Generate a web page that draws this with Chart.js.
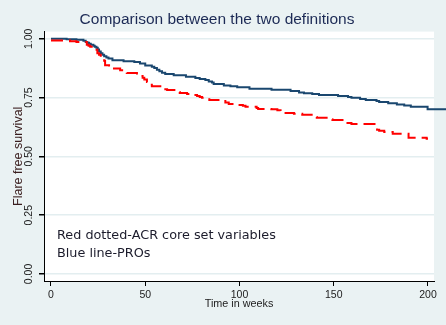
<!DOCTYPE html>
<html>
<head>
<meta charset="utf-8">
<title>Comparison between the two definitions</title>
<script src="https://cdn.jsdelivr.net/npm/chart.js@4.4.1/dist/chart.umd.min.js"></script>
<style>
  html, body { margin: 0; padding: 0; background: #eaf2f3; }
  canvas { display: block; }
</style>
</head>
<body>
<canvas id="myChart" width="446" height="325"></canvas>
<script>
// tick labels
const weekTicks = [0, 50, 100, 150, 200];
const survTicks = [0, 0.25, 0.5, 0.75, 1];

// Blue line - PROs (time of each drop, survival after the drop)
const blueWeeks = [0, 8.3, 13.5, 17.2, 18.4, 19.3, 20.2, 21.1, 22.5, 23.2, 24.1, 24.8, 25.5, 26.4, 27.3, 28.2,
  29.4, 30.5, 32.6, 38.5, 44.2, 47.2, 50.0, 53.5, 54.8, 56.2, 57.5, 58.9, 60.6, 65.1, 71.6, 76.6, 78.9,
  81.9, 83.7, 85.4, 86.3, 91.7, 95.2, 98.8, 105.3, 117.0, 127.1, 131.6, 134.2, 138.6, 142.2, 152.3,
  157.6, 159.4, 164.0, 167.0, 172.7, 174.1, 178.9, 183.5, 187.4, 190.9, 199.8, 211];
const blueSurv = [1.0, 0.998, 0.996, 0.992, 0.987, 0.983, 0.979, 0.975, 0.970, 0.966, 0.962, 0.955, 0.946, 0.939, 0.932, 0.926,
  0.921, 0.916, 0.909, 0.905, 0.901, 0.895, 0.887, 0.881, 0.876, 0.869, 0.862, 0.856, 0.850, 0.845, 0.839, 0.833, 0.829,
  0.825, 0.818, 0.814, 0.808, 0.802, 0.798, 0.794, 0.788, 0.783, 0.778, 0.772, 0.769, 0.765, 0.761, 0.757,
  0.753, 0.749, 0.744, 0.740, 0.736, 0.731, 0.726, 0.721, 0.716, 0.711, 0.701, 0.701];

// Red dotted - ACR core set variables
const redWeeks = [0, 10.1, 13.5, 19.0, 19.9, 20.8, 21.6, 22.5, 23.2, 24.6, 25.5, 26.4, 27.3, 28.2, 28.7, 30.8,
  32.6, 36.7, 38.8, 40.2, 45.6, 47.4, 48.6, 49.5, 50.9, 51.8, 52.7, 53.5, 58.0, 61.6, 66.8, 68.3, 72.2,
  75.7, 77.5, 78.9, 80.1, 84.0, 92.5, 94.3, 96.9, 101.8, 103.2, 109.1, 109.9, 116.9, 120.1, 121.8, 123.6,
  128.9, 133.3, 138.3, 139.9, 141.0, 147.5, 149.3, 155.9, 157.3, 159.4, 173.0, 174.1, 176.8, 181.3,
  189.7, 199.3, 200];
const redSurv = [0.993, 0.990, 0.986, 0.975, 0.970, 0.966, 0.962, 0.958, 0.953, 0.939, 0.932, 0.921, 0.914, 0.907, 0.888, 0.881,
  0.874, 0.866, 0.859, 0.855, 0.848, 0.842, 0.834, 0.827, 0.816, 0.810, 0.805, 0.798, 0.786, 0.782, 0.774, 0.770, 0.765,
  0.761, 0.757, 0.753, 0.749, 0.740, 0.729, 0.723, 0.719, 0.715, 0.711, 0.706, 0.702, 0.700, 0.696, 0.691, 0.685,
  0.681, 0.677, 0.672, 0.668, 0.664, 0.658, 0.655, 0.647, 0.642, 0.638, 0.613, 0.609, 0.604, 0.596,
  0.579, 0.575, 0.575];

const noteLines = ['Red dotted-ACR core set variables', 'Blue line-PROs'];

const toPoints = (xs, ys) => xs.map((x, i) => ({ x: x, y: ys[i] }));

// background + white plot region + the little note
const stataLook = {
  id: 'stataLook',
  beforeDraw(chart) {
    const { ctx, chartArea: a } = chart;
    ctx.save();
    ctx.fillStyle = '#eaf2f3';
    ctx.fillRect(0, 0, chart.width, chart.height);
    ctx.fillStyle = '#ffffff';
    ctx.fillRect(a.left, a.top, a.right - a.left, a.bottom - a.top);
    ctx.restore();
  },
  afterDraw(chart) {
    const ctx = chart.ctx;
    ctx.save();
    ctx.fillStyle = '#1c1c2c';
    ctx.font = '12.8px "DejaVu Sans", "Open Sans", sans-serif';
    ctx.textBaseline = 'alphabetic';
    noteLines.forEach((t, i) => ctx.fillText(t, 57, 239 + i * 17.5));
    ctx.restore();
  }
};

const ctx = document.getElementById('myChart').getContext('2d');

new Chart(ctx, {
  type: 'line',
  data: {
    datasets: [
      {
        label: 'ACR core set',
        data: toPoints(redWeeks, redSurv),
        borderColor: '#ff0000',
        borderWidth: 2,
        borderDash: [12, 6],
        stepped: true,
        pointRadius: 0,
        fill: false
      },
      {
        label: 'PROs',
        data: toPoints(blueWeeks, blueSurv),
        borderColor: '#1a476f',
        borderWidth: 2,
        stepped: true,
        pointRadius: 0,
        fill: false,
        clip: false
      }
    ]
  },
  options: {
    responsive: false,
    animation: false,
    devicePixelRatio: 1,
    layout: { padding: { left: 0, right: 12, top: 0, bottom: 0 }, autoPadding: false },
    plugins: {
      legend: { display: false },
      tooltip: { enabled: false },
      title: {
        display: true,
        text: 'Comparison between the two definitions',
        color: '#1c2a55',
        font: { family: 'Arial, "Liberation Sans"', size: 15.5, weight: 'normal' },
        padding: { top: 10, bottom: 3 }
      }
    },
    scales: {
      x: {
        type: 'linear',
        min: -3.71,
        max: 203.2,
        afterBuildTicks: (s) => { s.ticks = weekTicks.map(v => ({ value: v })); },
        afterFit: (s) => { s.height = 44; },
        border: { display: true, color: '#000', width: 1 },
        grid: { drawOnChartArea: false, tickColor: '#000', tickLength: 5 },
        ticks: {
          color: '#222',
          font: { family: 'Arial, "Liberation Sans"', size: 10.5 },
          padding: 3,
          maxRotation: 0
        },
        title: {
          display: true,
          text: 'Time in weeks',
          color: '#222',
          font: { family: 'Arial, "Liberation Sans"', size: 10.8 },
          padding: { top: 0, bottom: 14 }
        }
      },
      y: {
        type: 'linear',
        min: -0.0298,
        max: 1.0307,
        afterBuildTicks: (s) => { s.ticks = survTicks.map(v => ({ value: v })); },
        afterFit: (s) => { s.width = 44; },
        border: { display: true, color: '#000', width: 1 },
        grid: { color: '#e3eef0', lineWidth: 1.5, tickColor: '#000', tickLength: 5 },
        ticks: {
          color: '#222',
          font: { family: 'Arial, "Liberation Sans"', size: 10.5 },
          minRotation: 90,
          maxRotation: 90,
          crossAlign: 'center',
          padding: 0,
          callback: (v) => v.toFixed(2)
        },
        title: {
          display: true,
          text: 'Flare free survival',
          color: '#3a1e1e',
          font: { family: 'Arial, "Liberation Sans"', size: 12.5 },
          padding: { top: 11, bottom: 0 }
        }
      }
    }
  },
  plugins: [stataLook]
});
</script>
</body>
</html>
